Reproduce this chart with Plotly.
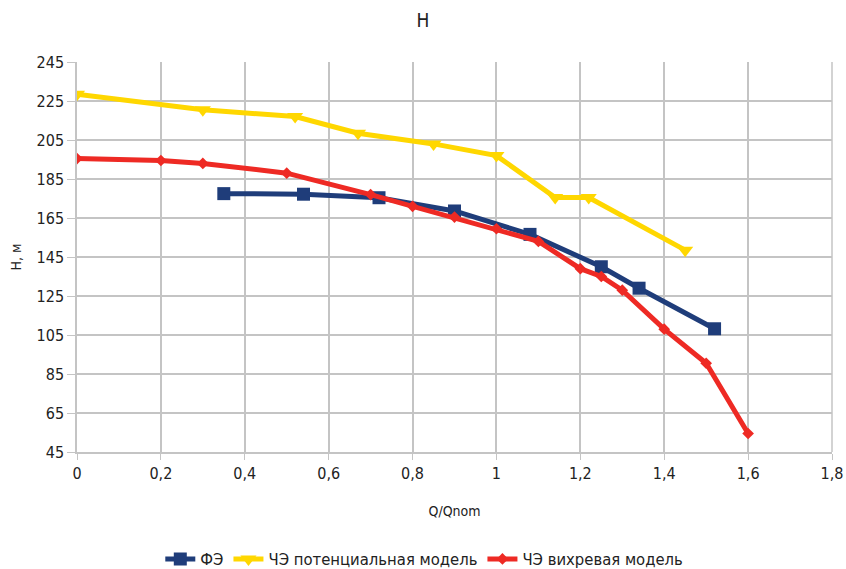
import plotly.graph_objects as go

fe_x = [0.35, 0.54, 0.72, 0.90, 1.08, 1.25, 1.34, 1.52]
fe_y = [177.5, 177.2, 175.4, 168.6, 156.6, 140.0, 129.0, 108.2]

pot_x = [0.0, 0.30, 0.52, 0.67, 0.85, 1.0, 1.14, 1.22, 1.45]
pot_y = [228.5, 220.5, 217.0, 208.5, 203.0, 197.0, 175.5, 175.5, 148.5]

vor_x = [0.0, 0.2, 0.3, 0.5, 0.7, 0.8, 0.9, 1.0, 1.1, 1.2, 1.25, 1.3, 1.4, 1.5, 1.6]
vor_y = [195.5, 194.5, 193.0, 188.0, 177.0, 171.0, 165.5, 159.5, 153.0, 139.0, 135.0, 128.0, 108.0, 90.5, 54.5]

x_ticks = [0, 0.2, 0.4, 0.6, 0.8, 1.0, 1.2, 1.4, 1.6, 1.8]
x_labels = ["0", "0,2", "0,4", "0,6", "0,8", "1", "1,2", "1,4", "1,6", "1,8"]
y_ticks = [45, 65, 85, 105, 125, 145, 165, 185, 205, 225, 245]

FONT = "DejaVu Sans Condensed, Liberation Sans Narrow, Liberation Sans, Arial, sans-serif"

fig = go.Figure()
fig.add_trace(go.Scatter(x=fe_x, y=fe_y, name="ФЭ", mode="lines+markers",
                         line=dict(color="#1f3d7a", width=5),
                         marker=dict(symbol="square", size=13, color="#1f3d7a")))
fig.add_trace(go.Scatter(x=pot_x, y=pot_y, name="ЧЭ потенциальная модель", mode="lines+markers",
                         line=dict(color="#ffd700", width=5),
                         marker=dict(symbol="triangle-down", size=14, color="#ffd700")))
fig.add_trace(go.Scatter(x=vor_x, y=vor_y, name="ЧЭ вихревая модель", mode="lines+markers",
                         line=dict(color="#ee2a24", width=5),
                         marker=dict(symbol="diamond", size=9, color="#ee2a24")))

fig.update_layout(
    width=846, height=569,
    margin=dict(l=77, r=14, t=62, b=117, autoexpand=False),
    paper_bgcolor="white", plot_bgcolor="white",
    separators=", ",
    font=dict(family=FONT, size=16, color="#222222"),
    title=dict(text="H", x=0.5, xanchor="center", y=0.965, yanchor="middle",
               font=dict(family=FONT, size=19, color="#222222")),
    showlegend=True,
    legend=dict(orientation="h", x=0.46, xanchor="center", y=-0.275, yanchor="middle",
                font=dict(family=FONT, size=16.5, color="#222222"), itemwidth=30),
    xaxis=dict(range=[0, 1.8], tickvals=x_ticks, ticktext=x_labels, automargin=False,
               showgrid=True, gridcolor="#c4c4c4", gridwidth=1.5,
               showline=True, linecolor="#c4c4c4", linewidth=1.5, mirror=False,
               ticks="outside", ticklen=6, tickcolor="#c4c4c4",
               zeroline=False,
               title=dict(text="Q/Qnom", font=dict(family=FONT, size=14), standoff=24)),
    yaxis=dict(range=[45, 245], tickvals=y_ticks, automargin=False,
               showgrid=True, gridcolor="#c4c4c4", gridwidth=1.5,
               showline=True, linecolor="#c4c4c4", linewidth=1.5,
               ticks="outside", ticklen=8, tickcolor="#c4c4c4",
               zeroline=False,
               title=dict(text="H, м", font=dict(family=FONT, size=14), standoff=12)),
)
fig.add_shape(type="line", xref="paper", yref="paper", x0=1, x1=1, y0=0, y1=1,
              line=dict(color="#c4c4c4", width=1.5))

fig.write_html("out.html", config={"displayModeBar": False},
               post_script="document.body.style.margin='0';document.body.style.padding='0';")
